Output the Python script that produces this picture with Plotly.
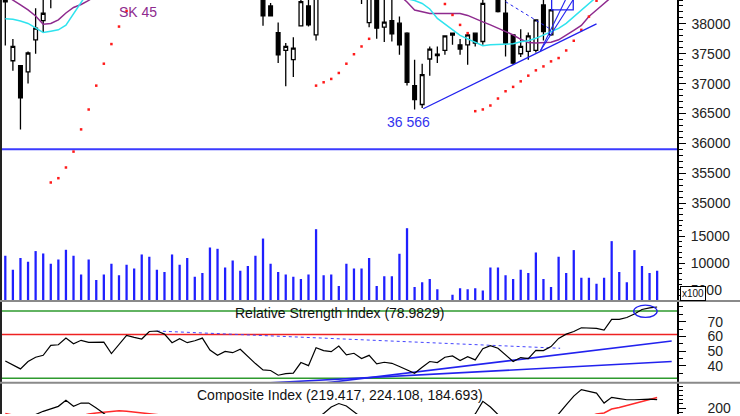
import plotly.graph_objects as go

# ---------------- data ----------------
N = 87
bars = list(range(N))

# candlesticks (None = bar entirely outside the visible window)
c_open = ([38500, 37383, 37300, 37195, 37733, 38055, 38450] + [None] * 27 +
          [38450, 38300, 37855, 37555, 37400, 37967, 38300, 37817] + [None] * 5 +
          [38500, 38022, 38500, 37945, 38055, 38012, 37845, 36967, 36650, 37412, 37495,
           37555, 37845, 37650, 37650, 37845, 37705] + [None] +
          [38500, 38178, 37817, 37500, 37538, 37555, 38317, 37817] + [None] * 14)
c_high = ([38550, 37745, 37310, 37538, 38262, 38450, 38700] + [None] * 27 +
          [38550, 38350, 38022, 37678, 37778, 38420, 38450, 38500] + [None] * 5 +
          [38700, 38500, 38550, 38420, 38400, 38122, 37860, 37400, 37333, 37622, 37622,
           37810, 37850, 37745, 37855, 37855, 38450] + [None] +
          [38550, 38420, 37820, 37912, 37855, 38067, 38450, 38250] + [None] * 14)
c_low = ([37638, 37217, 36233, 37000, 37500, 37862, 38262] + [None] * 27 +
         [37967, 38122, 37345, 36955, 37112, 37967, 37955, 37722] + [None] * 5 +
         [38333, 37945, 37750, 37695, 37705, 37483, 36967, 36566, 36590, 37133, 37345,
          37483, 37650, 37483, 37317, 37622, 37650] + [None] +
         [38190, 37455, 37317, 37445, 37400, 37522, 37722, 37800] + [None] * 14)
c_close = ([38367, 37622, 36762, 37512, 37928, 38178, 38600] + [None] * 27 +
           [38133, 38133, 37483, 37622, 37595, 38372, 37983, 38450] + [None] * 5 +
           [38600, 38450, 37928, 38028, 37833, 37650, 37022, 36733, 37150, 37578, 37467,
            37800, 37812, 37578, 37817, 37678, 38345] + [None] +
           [38205, 37678, 37345, 37622, 37800, 38067, 37872, 38233] + [None] * 14)

# moving averages
ma_purple = ([38480, 38392, 38317, 38233, 38133, 37995, 38008, 38067, 38183, 38275, 38325,
              38392, 38480] + [None] * 39 +
             [38480, 38367, 38233, 38200, 38175, 38175, 38178, 38178, 38175, 38142, 38083,
              38033, 37983, 37925, 37867, 37817, 37742, 37687, 37678, 37683, 37692, 37733,
              37808, 37892, 37975, 38125, 38233, 38342, 38450] + [None] * 6)
ma_cyan = ([38088, 38078, 38047, 38007, 37932, 37855, 37878, 37900, 37977, 38168, 38373,
            38550] + [None] * 41 +
           [38420, 38392, 38342, 38250, 38092, 37992, 37908, 37808, 37750, 37692, 37633,
            37650, 37658, 37667, 37667, 37700, 37717, 37758, 37817, 37867, 37925, 38008,
            38117, 38217, 38333, 38450] + [None] * 8)

# parabolic SAR dots
sar = ([None] * 6 +
       [35344, 35416, 35595, 35861, 36233, 36566, 36966, 37333, 37662, 37955, 38217] +
       [None] * 24 +
       [36966, 37022, 37078, 37178, 37333, 37492, 37622, 37750] + [None] * 9 +
       [38333, 38150, 37983, 37845,
        36538, 36567, 36633, 36750, 36872, 36945, 37038, 37133, 37222, 37288, 37372,
        37428, 37555, 37717, 37900, 38122, 38388] + [None] * 8)

# volume (x100)
volume = [11352, 8759, 10926, 10240, 12222, 11778, 9870, 10666, 12463, 11352,
          7888, 10666, 6851, 7888, 9870, 7703, 9685, 9000, 11592, 11166,
          8759, 8333, 11592, 9685, 10926, 7462, 8148, 12889, 12648, 9185,
          10481, 8574, 9444, 11352, 14556, 9870, 8333, 7888, 7462, 7036,
          7888, 16296, 7703, 7888, 5740, 9870, 9000, 9000, 10926, 5740,
          7518, 7518, 11722, 16482, 5555, 6407, 7036, 5110, 2962, 4073,
          5296, 5110, 5296, 4870, 9185, 9185, 7703, 7036, 8759, 8148,
          11963, 7036, 5555, 11166, 8148, 12407, 7277, 7277, 6166, 7277,
          14074, 8333, 6407, 12407, 9444, 8148, 8574]

# RSI
rsi = [43.4, 40.7, 38.0, 43.0, 45.9, 47.2, 54.0, 54.4, 58.9, 55.1,
       57.4, 56.0, 56.0, 56.2, 48.4, 54.2, 60.7, 59.4, 58.3, 63.4,
       63.7, 61.6, 55.8, 58.5, 55.8, 57.1, 58.9, 50.8, 47.2, 49.9,
       49.0, 51.3, 46.3, 41.6, 37.3, 36.9, 33.7, 34.8, 35.1, 42.3,
       40.2, 52.4, 50.4, 49.7, 53.5, 47.5, 48.6, 45.0, 47.2, 41.4,
       42.5, 41.8, 39.6, 37.3, 35.0, 39.1, 43.0, 42.3, 45.9, 46.8,
       43.6, 46.3, 44.1, 51.7, 53.8, 52.0, 47.2, 43.0, 45.7, 45.0,
       50.6, 50.4, 53.1, 58.7, 61.6, 63.4, 65.9, 65.9, 65.5, 64.3,
       71.6, 71.6, 72.9, 75.2, 78.3, 79.4, 79.9829]
rsi_levels_green = [77.2, 31.7]
rsi_level_red = 61.4

# Composite index
comp = ([None] * 3 +
        [175, 185, 192.4, 198.9, 203.9, 217.7, 203.9, 211.5, 211.5, 200, 188.5, 175] +
        [None] * 26 + [175, 187.4, 202.3, 210.4, 204.6, 193.1, 178] + [None] * 13 +
        [178, 186.2, 215.4, 202.3, 185, 175] + [None] * 5 +
        [175, 186.2, 207.1, 227.6, 242.6, 238, 234.5, 211.5, 224.6, 221.9, 219.1, 219.1,
         219.6, 220.7, 219.417])
comp_fast = ([187.4, 185, 180] + [None] * 7 +
             [182, 186.2, 188.5, 190.8, 192.4, 193.8, 192.4, 190.8, 189.2, 188.5, 186.9, 183] +
             [None] * 55 +
             [180, 186.2, 188.5, 197.7, 201.2, 205.8, 210.1, 215.4, 220.2, 224.108])
comp_slow = [None] * 84 + [183.5, 184.2, 184.693]

# drawn trend lines: (bar, value) end points
support_x, support_y = [55.14, 78.0], [36578, 38000]
steep1_x, steep1_y = [70.6, 74.9], [37550, 38400]
steep2_x, steep2_y = [70.6, 73.9], [37550, 38400]
resist_x, resist_y = [66.0, 72.08], [38372, 37900]
box_x, box_y = [72.08, 74.93], [38233, 38420]
hline_price = 35900
rsi_tl1_x, rsi_tl1_y = [35.0, 87.92], [24.0, 56.89]
rsi_tl2_x, rsi_tl2_y = [35.0, 87.92], [28.6, 42.97]
rsi_dot_x, rsi_dot_y = [20.0, 73.2], [63.7, 52.0]
rsi_ell_x, rsi_ell_y = [82.9, 86.0], [72.9, 81.2]

price_ticks = [35000, 35500, 36000, 36500, 37000, 37500, 38000]
vol_ticks = [5000, 10000, 15000]
rsi_ticks = [40, 50, 60, 70]
comp_ticks = [200]

# ---------------- figure ----------------
W, H = 740, 416
PW = 677  # plot width in px
FONT = "Liberation Sans, Arial, sans-serif"
BLUE = "#2222ee"

XR = [-0.70, 88.62]

def py(px):
    return (H - px) / H

fig = go.Figure()

# volume bars
fig.add_trace(go.Bar(x=bars, y=volume, width=0.3, marker=dict(color="#1f1fff", line=dict(width=0)),
                     xaxis="x", yaxis="y2", hoverinfo="skip"))

# horizontal level line
fig.add_trace(go.Scatter(x=XR, y=[hline_price, hline_price], mode="lines",
                         line=dict(color="#3b3bff", width=2), xaxis="x", yaxis="y"))

# moving averages
fig.add_trace(go.Scatter(x=bars, y=ma_purple, mode="lines", line=dict(color="#8e2a8e", width=1.5),
                         xaxis="x", yaxis="y", connectgaps=False))
fig.add_trace(go.Scatter(x=bars, y=ma_cyan, mode="lines", line=dict(color="#2fe3ee", width=1.5),
                         xaxis="x", yaxis="y", connectgaps=False))

# candles
fig.add_trace(go.Candlestick(x=bars, open=c_open, high=c_high, low=c_low, close=c_close,
                             increasing=dict(line=dict(color="black", width=1.3), fillcolor="white"),
                             decreasing=dict(line=dict(color="black", width=1.3), fillcolor="black"),
                             whiskerwidth=0, xaxis="x", yaxis="y"))

# SAR
fig.add_trace(go.Scatter(x=bars, y=sar, mode="markers",
                         marker=dict(color="#ff1a1a", size=2.5, symbol="square", line=dict(width=0)),
                         xaxis="x", yaxis="y"))

# price trend lines
for lx, ly, dash, w in [(support_x, support_y, "solid", 1.3), (steep1_x, steep1_y, "solid", 1.1),
                        (steep2_x, steep2_y, "solid", 1.1), (resist_x, resist_y, "dot", 1)]:
    fig.add_trace(go.Scatter(x=lx, y=ly, mode="lines", line=dict(color=BLUE, width=w, dash=dash),
                             xaxis="x", yaxis="y"))

# RSI panel
for lv in rsi_levels_green:
    fig.add_trace(go.Scatter(x=XR, y=[lv, lv], mode="lines", line=dict(color="#2e9a2e", width=1.5),
                             xaxis="x2", yaxis="y3"))
fig.add_trace(go.Scatter(x=XR, y=[rsi_level_red, rsi_level_red], mode="lines",
                         line=dict(color="#ee2222", width=1.5), xaxis="x2", yaxis="y3"))
fig.add_trace(go.Scatter(x=rsi_dot_x, y=rsi_dot_y, mode="lines",
                         line=dict(color="#4444ff", width=1, dash="dot"), xaxis="x2", yaxis="y3"))
fig.add_trace(go.Scatter(x=rsi_tl1_x, y=rsi_tl1_y, mode="lines", line=dict(color=BLUE, width=1.6),
                         xaxis="x2", yaxis="y3"))
fig.add_trace(go.Scatter(x=rsi_tl2_x, y=rsi_tl2_y, mode="lines", line=dict(color=BLUE, width=1.6),
                         xaxis="x2", yaxis="y3"))
fig.add_trace(go.Scatter(x=bars, y=rsi, mode="lines", line=dict(color="black", width=1.2),
                         xaxis="x2", yaxis="y3"))

# Composite panel
fig.add_trace(go.Scatter(x=bars, y=comp_slow, mode="lines", line=dict(color="#ff2a2a", width=1.5),
                         xaxis="x3", yaxis="y4", connectgaps=False))
fig.add_trace(go.Scatter(x=bars, y=comp_fast, mode="lines", line=dict(color="#ff2a2a", width=1.5),
                         xaxis="x3", yaxis="y4", connectgaps=False))
fig.add_trace(go.Scatter(x=bars, y=comp, mode="lines", line=dict(color="black", width=1.2),
                         xaxis="x3", yaxis="y4", connectgaps=False))

tickfont = dict(family=FONT, size=14, color="#222")

def xax(anchor):
    return dict(domain=[0, 1], range=XR, visible=False, fixedrange=True, anchor=anchor,
                rangeslider=dict(visible=False))

minor_price = [v for v in range(34700, 38500, 100) if v not in price_ticks]
minor_vol = [v for v in range(3000, 18000, 1000) if v not in vol_ticks]

common = dict(side="right", showgrid=False, zeroline=False, tickmode="array", ticks="outside",
              ticklen=7, tickcolor="black", tickfont=tickfont, ticklabeloverflow="allow")

fig.update_layout(
    width=W, height=H, margin=dict(l=0, r=W - PW, t=0, b=0),
    paper_bgcolor="white", plot_bgcolor="white", showlegend=False,
    font=dict(family=FONT),
    xaxis=xax("y"), xaxis2=dict(xax("y3"), matches="x"), xaxis3=dict(xax("y4"), matches="x"),
    yaxis=dict(common, domain=[py(303), 1], range=[33350, 38400],
               showline=True, linecolor="black", linewidth=1.5,
               tickvals=price_ticks, ticktext=[str(v) for v in price_ticks],
               ticklabelstandoff=3,
               minor=dict(tickmode="array", tickvals=minor_price, ticks="outside", ticklen=4,
                          tickcolor="black"), anchor="x"),
    yaxis2=dict(common, overlaying="y", range=[2832, 58950], showline=False,
                tickvals=vol_ticks, ticktext=[str(v) for v in vol_ticks],
                ticklabelstandoff=3,
                minor=dict(tickmode="array", tickvals=minor_vol, ticks="outside", ticklen=4,
                           tickcolor="black"), anchor="x"),
    yaxis3=dict(common, domain=[py(384), py(303)], range=[29.0, 83.7],
                showline=True, linecolor="black", linewidth=1.5,
                tickvals=rsi_ticks, ticktext=[str(v) for v in rsi_ticks],
                ticklabelstandoff=19,
                minor=dict(tickmode="array", tickvals=[35, 45, 55, 65, 75, 80],
                           ticks="outside", ticklen=4, tickcolor="black"), anchor="x2"),
    yaxis4=dict(common, domain=[0, py(385)], range=[186.2, 257.5],
                showline=True, linecolor="black", linewidth=1.5,
                tickvals=comp_ticks, ticktext=[str(v) for v in comp_ticks],
                ticklabelstandoff=19,
                minor=dict(tickmode="array", tickvals=[190, 210, 220, 230, 240, 250],
                           ticks="outside", ticklen=4, tickcolor="black"), anchor="x3"),
)

# ellipse around last RSI readings, box on price
fig.add_shape(type="circle", xref="x2", yref="y3", x0=rsi_ell_x[0], x1=rsi_ell_x[1],
              y0=rsi_ell_y[0], y1=rsi_ell_y[1], line=dict(color=BLUE, width=1.3))
fig.add_shape(type="rect", xref="x", yref="y", x0=box_x[0], x1=box_x[1], y0=box_y[0], y1=box_y[1],
              line=dict(color=BLUE, width=1.3))

# frame / separators
fig.add_shape(type="line", xref="paper", yref="paper", x0=1 / PW, x1=1 / PW, y0=0, y1=1,
              line=dict(color="#222", width=2))
for sep in (302.5, 384.5):
    fig.add_shape(type="line", xref="paper", yref="paper", x0=0, x1=W / PW, y0=py(sep), y1=py(sep),
                  line=dict(color="#8a8a8a", width=2))

# texts
fig.add_annotation(x=17.55, y=38205, xref="x", yref="y", text="SK 45", showarrow=False,
                   xanchor="center", yanchor="middle",
                   font=dict(family=FONT, size=14, color="#8e2a8e"))
fig.add_annotation(x=53.17, y=36358, xref="x", yref="y", text="36 566", showarrow=False,
                   xanchor="center", yanchor="middle",
                   font=dict(family=FONT, size=14, color="#3333ee"))
fig.add_annotation(x=339.5 / PW, y=py(315), xref="paper", yref="paper",
                   text="Relative Strength Index (78.9829)", showarrow=False,
                   xanchor="center", yanchor="middle",
                   font=dict(family=FONT, size=14, color="#111"))
fig.add_annotation(x=339.5 / PW, y=py(397), xref="paper", yref="paper",
                   text="Composite Index (219.417, 224.108, 184.693)", showarrow=False,
                   xanchor="center", yanchor="middle",
                   font=dict(family=FONT, size=14, color="#111"))
fig.add_annotation(x=693 / PW, y=py(295), xref="paper", yref="paper", text="x100",
                   showarrow=False, bgcolor="white", bordercolor="black", borderwidth=1,
                   borderpad=1, xanchor="center", yanchor="middle",
                   font=dict(family=FONT, size=10, color="#111"))

fig.write_html("out.html", config=dict(displayModeBar=False),
               post_script="document.body.style.margin='0';document.body.style.overflow='hidden';")
